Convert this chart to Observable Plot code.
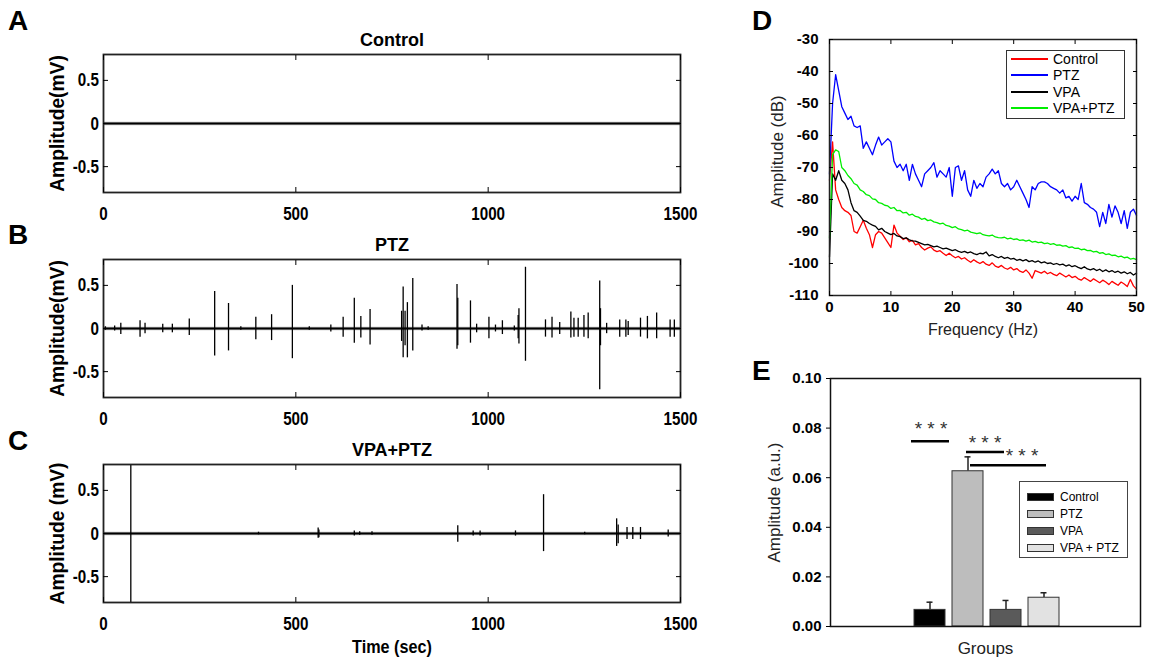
<!DOCTYPE html>
<html>
<head>
<meta charset="utf-8">
<script src="https://cdn.jsdelivr.net/npm/d3@7"></script>
<script src="https://cdn.jsdelivr.net/npm/@observablehq/plot@0.6"></script>
<style>
  body { margin: 0; background: #fff; }
  #root { position: relative; width: 1150px; height: 662px; overflow: hidden; background: #fff; font-family: "Liberation Sans", Arial, sans-serif; color: #000; }
  .panel { position: absolute; }
  .letter { position: absolute; font: bold 28px "Liberation Sans", Arial, sans-serif; line-height: 1; }
  .legend { position: absolute; background: #fff; box-sizing: border-box; }
  .legend .row { position: absolute; left: 0; right: 0; height: 0; }
  .legend .txt { position: absolute; transform: translateY(-50%); white-space: nowrap; line-height: 1; }
</style>
</head>
<body>
<div id="root"></div>
<script>
// ---------------- DATA ----------------
const timeTicks = [0, 500, 1000, 1500];
const ampTicks = [-0.5, 0, 0.5];

// Panel B (PTZ) spike events: time (s), positive peak (mV), negative peak (mV)
const ptzTime = [5, 29, 45, 95, 108, 154, 179, 223, 289, 325, 357, 396, 437, 491, 535, 591, 623, 652, 669, 693,
  775, 779, 784, 790, 804, 828, 844, 919, 921, 954, 970, 1002, 1019, 1037, 1068, 1078, 1080, 1097,
  1149, 1166, 1186, 1215, 1223, 1234, 1249, 1260, 1290, 1292, 1308, 1342, 1358, 1364, 1396, 1414, 1438, 1473, 1484];
const ptzPos = [0.02, 0.03, 0.06, 0.09, 0.06, 0.05, 0.05, 0.11, 0.43, 0.29, 0.02, 0.13, 0.16, 0.5, 0.02, 0.04, 0.13, 0.35, 0.14, 0.22,
  0.2, 0.48, 0.2, 0.3, 0.58, 0.04, 0.02, 0.51, 0.35, 0.32, 0.05, 0.13, 0.04, 0.09, 0.03, 0.15, 0.23, 0.71,
  0.1, 0.13, 0.07, 0.19, 0.12, 0.12, 0.15, 0.18, 0.55, 0.23, 0.06, 0.1, 0.1, 0.08, 0.12, 0.14, 0.18, 0.1, 0.1];
const ptzNeg = [-0.02, -0.03, -0.07, -0.1, -0.06, -0.05, -0.05, -0.08, -0.32, -0.26, -0.02, -0.13, -0.14, -0.35, -0.02, -0.04, -0.1, -0.17, -0.11, -0.19,
  -0.15, -0.34, -0.2, -0.34, -0.26, -0.03, -0.02, -0.24, -0.2, -0.17, -0.05, -0.12, -0.04, -0.07, -0.03, -0.12, -0.18, -0.38,
  -0.1, -0.11, -0.07, -0.11, -0.1, -0.1, -0.1, -0.12, -0.71, -0.2, -0.06, -0.1, -0.1, -0.08, -0.1, -0.12, -0.12, -0.1, -0.1];

// Panel C (VPA+PTZ) spike events
const vpaPtzTime = [71, 403, 558, 560, 652, 666, 698, 921, 961, 979, 1071, 1144, 1251, 1334, 1338, 1361, 1376, 1396, 1468];
const vpaPtzPos = [0.8, 0.015, 0.065, 0.04, 0.03, 0.02, 0.02, 0.09, 0.03, 0.03, 0.03, 0.45, 0.015, 0.17, 0.1, 0.07, 0.07, 0.07, 0.04];
const vpaPtzNeg = [-0.8, -0.015, -0.055, -0.05, -0.03, -0.02, -0.02, -0.1, -0.03, -0.03, -0.03, -0.21, -0.015, -0.15, -0.12, -0.07, -0.07, -0.07, -0.04];

// Panel D: power spectra (dB), sampled every 0.5 Hz from 0 to 50 Hz
const freqStep = 0.5;
const specSeries = ["Control", "PTZ", "VPA", "VPA+PTZ"];
const specColors = ["#ff0000", "#0000ff", "#000000", "#00ee00"];
const specControl = [
  -74, -62, -77, -80, -82.5, -83.5, -84, -85, -90, -90.5,
  -88.5, -86.5, -89, -91, -95, -91, -90, -90.5, -92, -93.5,
  -95, -88, -90.5, -91.5, -92.5, -92, -93.2, -92.8, -94.2, -93.8,
  -95, -95.8, -95.2, -94.8, -95.8, -96.3, -96, -96.8, -97.5, -96.8,
  -97.6, -98.2, -97.8, -98.6, -98.2, -99, -99.6, -98.8, -99.5, -100,
  -99.4, -100.2, -100.6, -99.8, -100.8, -101.2, -100.6, -101.4, -101.8, -101.2,
  -102, -101.6, -102.4, -102.8, -102, -103, -104.6, -102.2, -102.6, -103,
  -102.4, -103.2, -102.8, -103.4, -103.8, -103, -103.6, -104.2, -103.6, -104.4,
  -104, -104.8, -105.2, -104.4, -105, -105.6, -104.8, -105.4, -106, -105.2,
  -105.8, -106.6, -105.6, -106.2, -106.8, -105.8, -106.4, -107.2, -105, -107,
  -108];
const specPTZ = [
  -72, -50, -41, -46, -51, -53, -55, -54, -57, -57.5,
  -57, -64, -62, -64, -66, -63, -60.5, -63, -62, -61,
  -62, -68, -70, -69, -71, -69, -74, -69, -72, -74,
  -76, -72, -71, -70, -68.5, -73, -71, -72, -73, -70,
  -79, -70, -69.5, -74, -71, -77, -79, -74, -76.5, -75,
  -76, -73, -72, -70.5, -72, -71, -75, -76, -75, -77,
  -76, -74, -76, -78, -80, -82.5, -76, -77, -75, -74.5,
  -74.5, -75, -76, -76.5, -77, -78, -77, -79.5, -79, -80.5,
  -79, -80, -75, -81, -81.5, -82.5, -83, -84, -88.5, -84,
  -87.5, -81.5, -85.5, -82, -84, -87.5, -83.5, -89, -84, -83,
  -85];
const specVPA = [
  -98, -72, -74, -71, -74, -75, -77, -81, -83.5, -84,
  -85.2, -86.5, -86.8, -87.5, -88, -88.4, -89.5, -89, -90, -90.5,
  -91, -90.6, -91.4, -91.6, -92.2, -92, -92.6, -92.9, -93, -93.4,
  -93.8, -94.2, -94, -94.4, -94.8, -94.6, -95, -95.4, -95.2, -95.6,
  -96, -95.7, -96.2, -96.5, -96.2, -96.7, -96.4, -96.9, -97.2, -96.8,
  -97, -96.4, -97.6, -97.2, -97.8, -98.2, -97.8, -98.4, -98.1, -98.6,
  -98.4, -99, -98.7, -99.2, -98.8, -99.4, -99.1, -99.6, -99.2, -99.8,
  -99.5, -100, -99.8, -100.3, -100, -100.4, -100.2, -100.8, -100.4, -101,
  -100.7, -101.2, -101.6, -101, -101.7, -102, -101.6, -102.2, -101.8, -102.5,
  -102, -102.6, -102.2, -102.8, -102.4, -103, -102.6, -103.2, -102.8, -103.6,
  -103];
const specVPAPTZ = [
  -92, -66, -64.5, -65, -70, -71, -72.5, -73.5, -75, -75.5,
  -77, -77.5, -78.5, -78.8, -79.8, -80, -81, -81.2, -81.8, -82,
  -82.8, -82.5, -83.5, -83.4, -84.2, -84, -84.9, -84.6, -85.3, -85.5,
  -86.2, -85.9, -86.6, -86.4, -87, -87.2, -87.6, -87.4, -88.1, -88.3,
  -88.8, -88.5, -89.2, -89.4, -89.8, -89.6, -90.2, -90.4, -90.7, -90.4,
  -91, -91.2, -91.4, -91.1, -91.7, -91.9, -92, -91.8, -92.3, -92.1,
  -92.5, -92.3, -92.8, -92.6, -93, -92.7, -93.3, -93.1, -93.5, -93.3,
  -93.8, -93.6, -94, -93.8, -94.3, -94.2, -94.6, -94.4, -95, -94.8,
  -95.3, -95.2, -95.7, -95.5, -96, -95.9, -96.4, -96.2, -96.8, -96.6,
  -97.2, -97, -97.5, -97.4, -97.9, -97.7, -98.2, -98, -98.6, -98.4,
  -98.8];
const freqTicks = [0, 10, 20, 30, 40, 50];
const dbTicks = [-110, -100, -90, -80, -70, -60, -50, -40, -30];

// Panel E: mean amplitude and error per group
const groups = ["Control", "PTZ", "VPA", "VPA + PTZ"];
const groupMean = [0.0067, 0.0626, 0.0067, 0.0116];
const groupErr = [0.0031, 0.0058, 0.0038, 0.002];
const groupFill = ["#000000", "#bdbdbd", "#5a5a5a", "#e2e2e2"];
const auTicks = [0, 0.02, 0.04, 0.06, 0.08, 0.10];
const sigFrom = ["Control", "PTZ", "PTZ"];
const sigTo = ["PTZ", "VPA", "VPA + PTZ"];
const sigLevel = [0.0747, 0.0704, 0.065];
const sigTextLevel = [0.0795, 0.0742, 0.0686];
const sigLabel = ["* * *", "* * *", "* * *"];

// ---------------- RENDER ----------------
const root = document.getElementById("root");
const ARIAL = '"Liberation Sans",Arial,sans-serif';

function place(node, left, top) {
  const w = document.createElement("div");
  w.className = "panel";
  w.style.left = left + "px";
  w.style.top = top + "px";
  w.appendChild(node);
  root.appendChild(w);
  return node;
}
function letter(t, left, top) {
  const d = document.createElement("div");
  d.className = "letter";
  d.textContent = t;
  d.style.left = left + "px";
  d.style.top = top + "px";
  root.appendChild(d);
}
// condense MATLAB-style narrow bold texts
function condense(nodes, k) {
  nodes.forEach(t => {
    const s = t.textContent;
    if (!s || !s.trim()) return;
    const len = t.getComputedTextLength();
    if (len > 0) {
      t.setAttribute("textLength", (len * k).toFixed(2));
      t.setAttribute("lengthAdjust", "spacingAndGlyphs");
    }
  });
}
const fmt = d => String(d);

function tracePanel({title, ylabel, xlabel, spikes, height, marginTop, marginBottom}) {
  return Plot.plot({
    width: 740, height, marginLeft: 103, marginRight: 60, marginTop, marginBottom,
    style: {background: "transparent", overflow: "visible", fontFamily: ARIAL, color: "#000"},
    x: {domain: [0, 1500], axis: null},
    y: {domain: [-0.8, 0.8], axis: null},
    marks: [
      Plot.ruleY([0], {stroke: "#bbb", strokeWidth: 3.5}),
      Plot.ruleY([0], {stroke: "#000", strokeWidth: 2}),
      Plot.ruleX(spikes, {x: "t", y1: "lo", y2: "hi", stroke: "#000", strokeWidth: 1.3}),
      Plot.frame({stroke: "#222", strokeWidth: 1.8}),
      Plot.axisX(timeTicks, {anchor: "bottom", tickSize: -5, tickPadding: 19, fontSize: 19, fontWeight: "bold", tickFormat: fmt, label: null}),
      Plot.axisX(timeTicks, {anchor: "top", tickSize: -5, tickFormat: () => "", label: null}),
      Plot.axisY(ampTicks, {anchor: "left", tickSize: -5, tickPadding: 9.5, fontSize: 19, fontWeight: "bold", tickFormat: fmt, label: null}),
      Plot.axisY(ampTicks, {anchor: "right", tickSize: -5, tickFormat: () => "", label: null}),
      Plot.text([title], {text: d => d, frameAnchor: "top", lineAnchor: "middle", textAnchor: "middle", dy: -14, fontSize: 18, fontWeight: "bold"}),
      Plot.text([ylabel], {text: d => d, frameAnchor: "left", lineAnchor: "middle", textAnchor: "middle", dx: -46, rotate: -90, fontSize: 20, fontWeight: "bold"}),
      xlabel ? Plot.text([xlabel], {text: d => d, frameAnchor: "bottom", lineAnchor: "middle", textAnchor: "middle", dy: 45, fontSize: 18, fontWeight: "bold"}) : null
    ]
  });
}

const ptzSpikes = ptzTime.map((t, i) => ({t, hi: ptzPos[i], lo: ptzNeg[i]}));
const vpaPtzSpikes = vpaPtzTime.map((t, i) => ({t, hi: vpaPtzPos[i], lo: vpaPtzNeg[i]}));

const svgA = place(tracePanel({title: "Control", ylabel: "Amplitude(mV)", spikes: [], height: 215, marginTop: 54, marginBottom: 23}), 0, 0);
const svgB = place(tracePanel({title: "PTZ", ylabel: "Amplitude(mV)", spikes: ptzSpikes, height: 205, marginTop: 44, marginBottom: 23}), 0, 215);
const svgC = place(tracePanel({title: "VPA+PTZ", ylabel: "Amplitude (mV)", xlabel: "Time (sec)", spikes: vpaPtzSpikes, height: 242, marginTop: 44, marginBottom: 60}), 0, 420);
[svgA, svgB, svgC].forEach(s => {
  condense(s.querySelectorAll('[aria-label$="tick label"] text'), 0.8);
  condense(Array.from(s.querySelectorAll("text")).filter(t => t.textContent === "Time (sec)"), 0.9);
  condense(Array.from(s.querySelectorAll("text")).filter(t => t.textContent.startsWith("Amplitude")), 0.96);
});

// Panel D
const specValues = [specControl, specPTZ, specVPA, specVPAPTZ];
const specRows = specSeries.flatMap((s, k) => specValues[k].map((v, i) => ({f: i * freqStep, v, s, c: specColors[k]})));
place(Plot.plot({
  width: 410, height: 345, marginLeft: 89, marginRight: 14, marginTop: 39, marginBottom: 50,
  style: {background: "transparent", overflow: "visible", fontFamily: ARIAL, color: "#000"},
  x: {domain: [0, 50], axis: null},
  y: {domain: [-110, -30], axis: null},
  marks: [
    ...specSeries.map(s => Plot.line(specRows.filter(d => d.s === s), {x: "f", y: "v", stroke: "c", strokeWidth: 1.3})),
    Plot.frame({stroke: "#222", strokeWidth: 1.5}),
    Plot.axisX(freqTicks, {anchor: "bottom", tickSize: -4, tickPadding: 10, fontSize: 15, fontWeight: "bold", tickFormat: fmt, label: null}),
    Plot.axisX(freqTicks, {anchor: "top", tickSize: -4, tickFormat: () => "", label: null}),
    Plot.axisY(dbTicks, {anchor: "left", tickSize: -4, tickPadding: 15, fontSize: 15, fontWeight: "bold", tickFormat: fmt, label: null}),
    Plot.axisY(dbTicks, {anchor: "right", tickSize: -4, tickFormat: () => "", label: null}),
    Plot.text(["Frequency (Hz)"], {text: d => d, frameAnchor: "bottom", lineAnchor: "middle", textAnchor: "middle", dy: 34, fontSize: 16, fill: "#222"}),
    Plot.text(["Amplitude (dB)"], {text: d => d, frameAnchor: "left", lineAnchor: "middle", textAnchor: "middle", dx: -52, dy: -16, rotate: -90, fontSize: 17, fill: "#222"})
  ]
}), 740, 0);

// Panel E
const barRows = groups.map((g, i) => ({g, m: groupMean[i], e: groupErr[i], c: groupFill[i]}));
const sigRows = sigFrom.map((a, i) => ({a, b: sigTo[i], y: sigLevel[i], ty: sigTextLevel[i], t: sigLabel[i]}));
const sigDx = [-19, -2, 2];
const sigTextAt = ["Control", "PTZ", "VPA"];
const sigTextDx = [1, 17, 16];
place(Plot.plot({
  width: 410, height: 317, marginLeft: 90, marginRight: 10, marginTop: 33, marginBottom: 36,
  style: {background: "transparent", overflow: "visible", fontFamily: ARIAL, color: "#000"},
  x: {type: "band", domain: groups, range: [165, 327], padding: 0.186, axis: null},
  y: {domain: [0, 0.1], axis: null},
  marks: [
    Plot.ruleX(barRows, {x: "g", y1: "m", y2: d => d.m + d.e, stroke: "#222", strokeWidth: 1.5}),
    Plot.tickY(barRows, {x: "g", y: d => d.m + d.e, stroke: "#222", strokeWidth: 1.5, insetLeft: 12.5, insetRight: 12.5}),
    Plot.barY(barRows, {x: "g", y: "m", fill: "c", stroke: "#333", strokeWidth: 1}),
    ...sigRows.map((r, i) => Plot.link([r], {x1: "a", x2: "b", y1: "y", y2: "y", dx: sigDx[i], stroke: "#000", strokeWidth: 2.5})),
    ...sigRows.map((r, i) => Plot.text([r], {x: () => sigTextAt[i], y: "ty", text: "t", dx: sigTextDx[i], fontSize: 19, fill: "#333"})),
    Plot.frame({stroke: "#111", strokeWidth: 1.5}),
    Plot.axisY(auTicks, {anchor: "left", tickSize: 4, tickPadding: 5, fontSize: 15, fontWeight: "bold", tickFormat: d3.format(".2f"), label: null}),
    Plot.text(["Groups"], {text: d => d, frameAnchor: "bottom", lineAnchor: "middle", textAnchor: "middle", dy: 22, fontSize: 17, fill: "#222"}),
    Plot.text(["Amplitude (a.u.)"], {text: d => d, frameAnchor: "left", lineAnchor: "middle", textAnchor: "middle", dx: -56, rotate: -90, fontSize: 17, fill: "#222"})
  ]
}), 740, 345);

// Legends
function legend({left, top, width, height, items, rowY, swatch, textLeft, fontSize, border}) {
  const box = document.createElement("div");
  box.className = "legend";
  Object.assign(box.style, {left: left + "px", top: top + "px", width: width + "px", height: height + "px", border});
  items.forEach((it, i) => {
    const row = document.createElement("div");
    row.className = "row";
    row.style.top = rowY[i] + "px";
    row.appendChild(swatch(it));
    const t = document.createElement("div");
    t.className = "txt";
    t.textContent = it.label;
    t.style.left = textLeft + "px";
    t.style.fontSize = fontSize + "px";
    row.appendChild(t);
    box.appendChild(row);
  });
  root.appendChild(box);
}
legend({
  left: 1006, top: 50, width: 119, height: 69, border: "1.5px solid #333",
  items: specSeries.map((s, i) => ({label: s, color: specColors[i]})),
  rowY: [8, 24, 41, 57], textLeft: 46, fontSize: 14,
  swatch: it => { const l = document.createElement("div"); Object.assign(l.style, {position: "absolute", left: "4px", width: "37px", top: "-1px", height: "2px", background: it.color}); return l; }
});
legend({
  left: 1019, top: 481, width: 109, height: 77, border: "1px solid #444",
  items: groups.map((g, i) => ({label: g, color: groupFill[i]})),
  rowY: [15, 32, 49, 66], textLeft: 40, fontSize: 12,
  swatch: it => { const l = document.createElement("div"); Object.assign(l.style, {position: "absolute", left: "7px", width: "27px", top: "-4px", height: "8px", boxSizing: "border-box", border: "1px solid #333", background: it.color}); return l; }
});

letter("A", 8, 7);
letter("B", 8, 221);
letter("C", 8, 427);
letter("D", 752, 7);
letter("E", 752, 357);
</script>
</body>
</html>
